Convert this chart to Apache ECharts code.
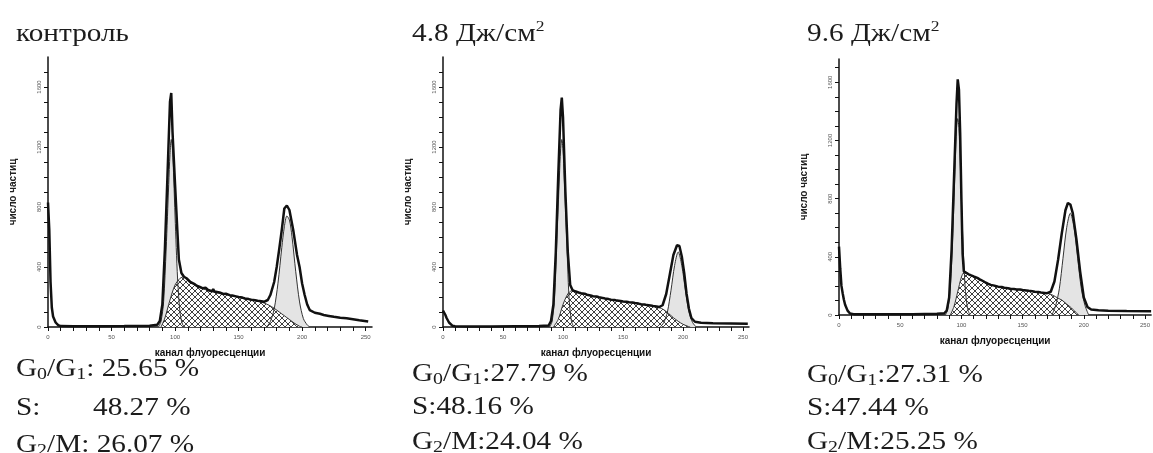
<!DOCTYPE html>
<html>
<head>
<meta charset="utf-8">
<script src="https://cdn.jsdelivr.net/npm/echarts@6/dist/echarts.min.js"></script>
<style>
  html, body { margin: 0; padding: 0; background: #fff; }
  #chart { width: 1153px; height: 453px; }
</style>
</head>
<body>
<div id="chart"></div>
<script>
  // оси
  const xLabels = [0, 50, 100, 150, 200, 250]
  const xTickVals = [0, 10, 20, 30, 40, 50, 60, 70, 80, 90, 100, 110, 120, 130, 140, 150, 160, 170, 180, 190, 200, 210, 220, 230, 240, 250]
  const yLabels = [0, 400, 800, 1200, 1600]
  const yTickVals = [0, 100, 200, 300, 400, 500, 600, 700, 800, 900, 1000, 1100, 1200, 1300, 1400, 1500, 1600, 1700]

  // контроль: гистограмма, G0/G1, S, G2/M  [канал, число частиц]
  const ctrlHist = [[0, 830], [1, 650], [2, 300], [3, 130], [4, 70], [6, 30], [8, 12], [10, 6], [20, 5], [40, 5], [60, 6], [80, 8], [86, 15], [88, 40], [90, 150], [92, 520], [94, 1000], [96, 1500], [97, 1560], [98, 1300], [100, 950], [102, 610], [103, 450], [105, 360], [107, 335], [109, 325], [112, 300], [115, 288], [117, 275], [118, 280], [120, 265], [122, 258], [124, 262], [126, 247], [129, 238], [130, 252], [131, 236], [135, 230], [138, 220], [140, 222], [143, 212], [145, 210], [148, 204], [150, 200], [153, 196], [155, 190], [158, 186], [160, 182], [163, 178], [165, 175], [168, 172], [170, 168], [173, 180], [175, 213], [178, 300], [180, 400], [182, 520], [184, 647], [186, 790], [188, 810], [190, 780], [193, 647], [196, 480], [198, 400], [200, 290], [202, 213], [204, 150], [206, 113], [210, 95], [214, 88], [217, 80], [221, 74], [225, 68], [230, 62], [235, 58], [240, 52], [245, 45], [252, 36]]
  const ctrlG1 = [[87, 0], [89, 40], [91, 170], [93, 520], [95, 950], [96, 1150], [97, 1250], [98, 1180], [99, 980], [100, 740], [102, 320], [104, 90], [106, 15], [108, 0]]
  const ctrlS = [[89, 0], [92, 60], [96, 180], [100, 280], [104, 325], [107, 335], [110, 315], [114, 290], [118, 270], [122, 255], [126, 243], [130, 233], [135, 225], [140, 215], [145, 207], [150, 197], [155, 188], [160, 180], [165, 172], [170, 160], [174, 145], [178, 125], [182, 100], [186, 75], [190, 50], [194, 25], [198, 5], [200, 0]]
  const ctrlG2 = [[172, 0], [175, 36], [178, 120], [181, 292], [184, 529], [186, 668], [188, 740], [190, 713], [192, 605], [195, 368], [198, 167], [201, 56], [204, 14], [206, 0]]

  // 4.8 Дж/см2
  const d48Hist = [[0, 110], [1, 95], [2, 80], [3, 60], [5, 30], [8, 8], [10, 5], [20, 4], [40, 4], [60, 5], [80, 6], [88, 10], [90, 40], [92, 150], [94, 500], [96, 1000], [98, 1450], [99, 1530], [100, 1400], [102, 900], [104, 500], [106, 280], [108, 245], [110, 238], [113, 230], [115, 225], [118, 222], [120, 215], [123, 210], [125, 205], [128, 203], [130, 198], [133, 194], [135, 190], [138, 186], [140, 182], [143, 180], [145, 176], [148, 174], [150, 170], [153, 168], [155, 165], [158, 163], [160, 160], [163, 156], [165, 152], [168, 150], [170, 146], [173, 144], [175, 140], [178, 137], [180, 133], [183, 145], [186, 220], [189, 350], [192, 480], [195, 545], [197, 540], [199, 470], [201, 360], [203, 220], [205, 120], [207, 60], [210, 35], [215, 28], [225, 25], [240, 24], [254, 22]]
  const d48G1 = [[89, 0], [91, 40], [93, 200], [95, 600], [97, 1000], [98, 1180], [99, 1250], [100, 1180], [101, 1000], [103, 600], [105, 200], [107, 40], [109, 0]]
  const d48S = [[92, 0], [96, 50], [100, 150], [104, 220], [107, 240], [110, 237], [115, 225], [120, 215], [125, 205], [130, 197], [135, 190], [140, 182], [145, 176], [150, 170], [155, 164], [160, 158], [165, 151], [170, 145], [175, 139], [180, 130], [184, 115], [188, 90], [192, 62], [196, 38], [200, 18], [204, 5], [206, 0]]
  const d48G2 = [[181, 0], [184, 30], [187, 100], [190, 245], [193, 410], [196, 500], [199, 410], [202, 245], [205, 100], [208, 30], [211, 0]]

  // 9.6 Дж/см2
  const d96Hist = [[0, 470], [1, 320], [2, 200], [3, 150], [4, 105], [5, 70], [7, 30], [9, 10], [12, 6], [30, 5], [60, 6], [80, 8], [86, 12], [88, 30], [90, 120], [92, 450], [94, 950], [96, 1450], [97, 1620], [98, 1550], [99, 1250], [100, 800], [101, 420], [102, 300], [104, 290], [106, 280], [108, 272], [110, 265], [113, 255], [115, 245], [118, 232], [120, 222], [122, 214], [124, 207], [127, 202], [130, 195], [133, 192], [135, 187], [138, 184], [140, 180], [143, 178], [145, 176], [148, 175], [150, 172], [153, 169], [155, 166], [158, 163], [160, 160], [163, 158], [165, 155], [168, 152], [170, 150], [173, 160], [176, 230], [179, 380], [182, 560], [185, 720], [187, 770], [189, 760], [191, 700], [194, 520], [197, 300], [200, 120], [203, 55], [206, 38], [212, 32], [220, 30], [235, 28], [255, 26]]
  const d96G1 = [[87, 0], [89, 45], [91, 200], [93, 560], [95, 1060], [96, 1280], [97, 1350], [98, 1280], [99, 1060], [101, 560], [103, 200], [105, 45], [107, 0]]
  const d96S = [[91, 0], [94, 60], [97, 160], [100, 260], [102, 290], [104, 290], [106, 280], [110, 265], [115, 245], [120, 222], [124, 207], [130, 195], [135, 187], [140, 180], [145, 176], [150, 172], [155, 166], [160, 160], [165, 155], [170, 150], [175, 135], [179, 115], [182, 103], [186, 75], [190, 48], [193, 22], [196, 0]]
  const d96G2 = [[174, 0], [177, 65], [180, 180], [183, 390], [186, 600], [189, 700], [192, 600], [195, 390], [198, 180], [201, 65], [204, 0]]

  // подписи
  const titles = ['{n|контроль}', '{n|4.8 Дж/см}{p|2}', '{n|9.6 Дж/см}{p|2}']
  const statsG1 = ['{n|G}{s|0}{n|/G}{s|1}{n|: 25.65 %}', '{n|G}{s|0}{n|/G}{s|1}{n|:27.79 %}', '{n|G}{s|0}{n|/G}{s|1}{n|:27.31 %}']
  const statsS = ['{n|S:}', '{n|S:48.16 %}', '{n|S:47.44 %}']
  const statsG2 = ['{n|G}{s|2}{n|/M: 26.07 %}', '{n|G}{s|2}{n|/M:24.04 %}', '{n|G}{s|2}{n|/M:25.25 %}']

  const panels = [
    { hist: ctrlHist, g1: ctrlG1, s: ctrlS, g2: ctrlG2, grid: { left: 48, top: 57, width: 324, height: 270 }, yMax: 1800, tx: 16, lines: [377, 416, 453] },
    { hist: d48Hist, g1: d48G1, s: d48S, g2: d48G2, grid: { left: 443, top: 57, width: 306, height: 270 }, yMax: 1800, tx: 412, lines: [382, 415, 450] },
    { hist: d96Hist, g1: d96G1, s: d96S, g2: d96G2, grid: { left: 839, top: 59, width: 324, height: 256 }, yMax: 1760, tx: 807, lines: [383, 416, 450] }
  ]

  // штриховка для S-фазы
  const hatch = document.createElement('canvas')
  hatch.width = 6
  hatch.height = 6
  const hctx = hatch.getContext('2d')
  hctx.fillStyle = '#fff'
  hctx.fillRect(0, 0, 6, 6)
  hctx.strokeStyle = '#2a2a2a'
  hctx.lineWidth = 0.9
  hctx.beginPath()
  hctx.moveTo(0, 0); hctx.lineTo(6, 6)
  hctx.moveTo(6, 0); hctx.lineTo(0, 6)
  hctx.stroke()

  const serif = '"Liberation Serif", "Times New Roman", serif'
  const rich = {
    n: { fontSize: 25, lineHeight: 28, fontFamily: serif, color: '#1c1c1c' },
    s: { fontSize: 17, lineHeight: 17, fontFamily: serif, color: '#1c1c1c', verticalAlign: 'bottom' },
    p: { fontSize: 15, lineHeight: 15, fontFamily: serif, color: '#1c1c1c', verticalAlign: 'top' }
  }

  function textEl(x, baseline, text) {
    return {
      type: 'text',
      x: x,
      y: baseline - 22,
      scaleX: 1.17,
      style: { text: text, rich: rich, align: 'left', verticalAlign: 'top', fill: '#1c1c1c' }
    }
  }

  const grid = []
  const xAxis = []
  const yAxis = []
  const series = []
  const graphic = []

  panels.forEach((p, i) => {
    grid.push(p.grid)
    xAxis.push({
      type: 'value',
      gridIndex: i,
      min: 0,
      max: 255,
      name: 'канал флуоресценции',
      nameLocation: 'middle',
      nameGap: 21,
      nameTextStyle: { fontSize: 10, fontWeight: 'bold', color: '#111', fontFamily: 'Liberation Sans' },
      axisLine: { show: true, onZero: false, lineStyle: { color: '#111', width: 1.5 } },
      axisTick: { show: true, length: 4, customValues: xTickVals, lineStyle: { color: '#111', width: 1 } },
      axisLabel: { fontSize: 6, color: '#555', margin: 7, customValues: xLabels, formatter: v => String(v) },
      splitLine: { show: false }
    })
    yAxis.push({
      type: 'value',
      gridIndex: i,
      min: 0,
      max: p.yMax,
      name: 'число частиц',
      nameLocation: 'middle',
      nameGap: 30,
      nameRotate: 90,
      nameTextStyle: { fontSize: 10, fontWeight: 'bold', color: '#222', fontFamily: 'Liberation Sans' },
      axisLine: { show: true, lineStyle: { color: '#111', width: 1.5 } },
      axisTick: { show: true, length: 4, customValues: yTickVals, lineStyle: { color: '#111', width: 1 } },
      axisLabel: { fontSize: 6, color: '#555', margin: 6, rotate: 90, customValues: yLabels, formatter: v => String(v) },
      splitLine: { show: false }
    })
    const base = { type: 'line', xAxisIndex: i, yAxisIndex: i, showSymbol: false, symbol: 'none', silent: true }
    series.push(Object.assign({}, base, {
      name: 'G0/G1', data: p.g1, smooth: 0.3,
      lineStyle: { color: '#333', width: 1 }, areaStyle: { color: '#e4e4e4', opacity: 1 }
    }))
    series.push(Object.assign({}, base, {
      name: 'G2/M', data: p.g2, smooth: 0.3,
      lineStyle: { color: '#333', width: 1 }, areaStyle: { color: '#e4e4e4', opacity: 1 }
    }))
    series.push(Object.assign({}, base, {
      name: 'S', data: p.s, smooth: 0.3,
      lineStyle: { color: '#333', width: 1 }, areaStyle: { color: { image: hatch, repeat: 'repeat' }, opacity: 1 }
    }))
    series.push(Object.assign({}, base, {
      name: 'hist', data: p.hist,
      lineStyle: { color: '#111', width: 2.5 }
    }))

    graphic.push(textEl(p.tx, 42, titles[i]))
    graphic.push(textEl(p.tx, p.lines[0], statsG1[i]))
    graphic.push(textEl(p.tx, p.lines[1], statsS[i]))
    graphic.push(textEl(p.tx, p.lines[2], statsG2[i]))
  })
  // в контроле значение S стоит с отступом
  graphic.push(textEl(93, 416, '{n|48.27 %}'))

  const myChart = echarts.init(document.getElementById('chart'))
  myChart.setOption({
    animation: false,
    backgroundColor: '#fff',
    grid: grid,
    xAxis: xAxis,
    yAxis: yAxis,
    series: series,
    graphic: graphic
  })
</script>
</body>
</html>
